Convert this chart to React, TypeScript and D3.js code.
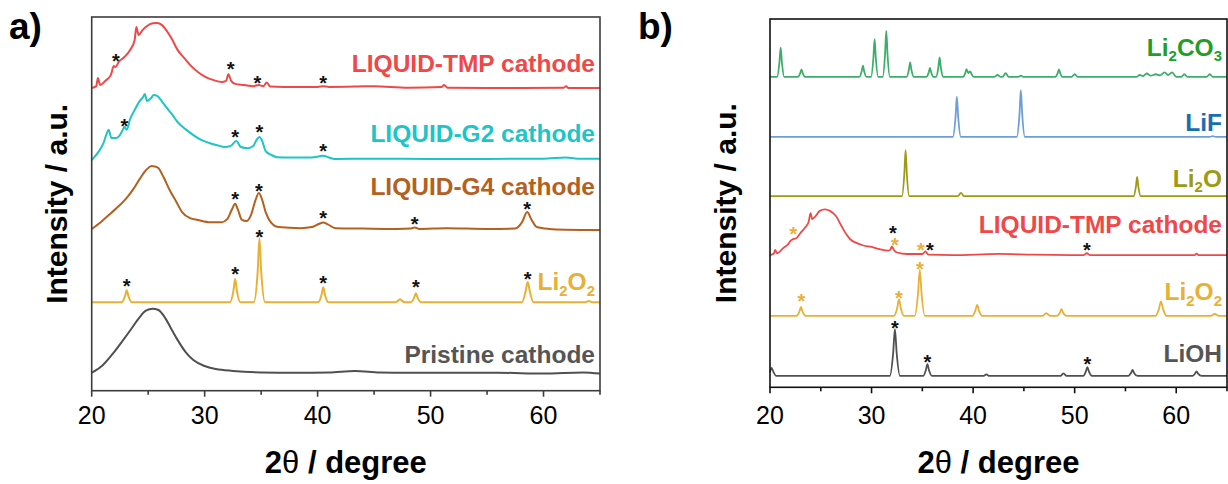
import React from 'react';
import * as d3 from 'd3';

type P = [number, number];

// ---------- axis ticks ----------
const X_DOMAIN: P = [20, 65];
const X_MAJOR = [20, 30, 40, 50, 60];
const X_MINOR = [25, 35, 45, 55, 65];

// ---------- panel a: patterns (2θ, intensity above own baseline, a.u.) ----------
const A_TMP: P[] = [
  [20.0, 0], [20.4, 0.5], [20.55, 2.7], [20.75, 0.8], [21.2, 1.9], [21.7, 3.5], [21.95, 5.9], [22.1, 5.6],
  [22.4, 7.0], [22.9, 8.3], [23.4, 10.2], [23.8, 12.8], [23.95, 16.3], [24.15, 14.2], [24.5, 15.5], [24.9, 16.6],
  [25.4, 17.3], [25.8, 17.4], [26.2, 16.9], [26.6, 15.5], [27.1, 13.1], [27.6, 10.2], [28.2, 8.0], [28.7, 6.2],
  [29.4, 4.3], [30.1, 2.9], [30.8, 2.1], [31.5, 1.6], [31.9, 1.9], [32.1, 3.7], [32.35, 1.9], [32.7, 1.1],
  [33.5, 0.8], [34.3, 0.5], [34.8, 0.8], [35.2, 0.5], [35.5, 1.5], [35.8, 0.4], [37, 0.3], [40, 0.3],
  [40.5, 0.5], [41, 0.3], [43.5, 0.4], [45, 0.5], [48, 0.1], [51, 0.3], [51.2, 0.8], [51.5, 0.1],
  [55, 0], [61.8, 0.1], [62.0, 0.5], [62.2, 0], [65, 0],
];
const A_G2: P[] = [
  [20.0, -0.3], [20.6, 1.9], [21.05, 4.3], [21.35, 7.0], [21.5, 7.8], [21.75, 5.6], [22.1, 5.6], [22.45, 6.2],
  [22.75, 7.8], [22.9, 8.6], [23.1, 7.8], [23.4, 10.7], [23.8, 13.1], [24.2, 15.3], [24.55, 16.6], [24.7, 17.4],
  [24.9, 15.5], [25.2, 16.1], [25.5, 17.1], [25.8, 16.9], [26.2, 15.5], [26.6, 13.9], [27.1, 12.0], [27.6, 9.9],
  [28.3, 8.0], [29.0, 6.4], [29.7, 5.1], [30.4, 4.3], [31.1, 3.7], [31.8, 3.2], [32.3, 3.5], [32.8, 4.8],
  [33.2, 3.2], [33.8, 2.9], [34.3, 3.5], [34.6, 5.1], [34.85, 5.9], [35.1, 4.8], [35.4, 2.1], [35.9, 1.1],
  [36.4, 0.5], [37.5, 0.4], [39.5, 0.4], [40.1, 0.7], [40.5, 0.9], [41.0, 0.4], [41.5, 0], [45, 0.1],
  [50, 0], [55, 0], [60, 0.1], [62, 0.4], [63, 0.1], [65, 0.1],
];
const A_G4: P[] = [
  [20.0, 0.3], [20.8, 2.1], [21.7, 4.5], [22.4, 6.4], [23.1, 8.6], [23.7, 11.0], [24.3, 13.9], [24.9, 16.3],
  [25.3, 17.1], [25.6, 17.0], [25.9, 16.6], [26.4, 13.9], [26.9, 10.7], [27.5, 7.5], [28.0, 4.8], [28.7, 3.2],
  [29.4, 2.7], [30.5, 2.1], [31.5, 2.1], [32.0, 2.9], [32.4, 5.4], [32.7, 7.0], [32.95, 5.4], [33.3, 2.7],
  [33.7, 2.4], [34.1, 4.0], [34.5, 8.0], [34.8, 9.9], [35.1, 8.0], [35.4, 4.8], [35.9, 1.9], [36.5, 0.8],
  [38.5, 0.5], [39.5, 0.8], [40.1, 1.6], [40.5, 2.0], [40.9, 1.5], [41.6, 0.5], [44, 0.4], [47, 0.3],
  [48.3, 0.4], [48.6, 0.7], [49.0, 0.3], [51.4, 0.5], [55, 0.3], [57.5, 0.4], [58.1, 2.1], [58.55, 4.8],
  [58.95, 2.7], [59.4, 0.8], [60.5, 0.3], [62, 0.1], [65, 0],
];
const A_LI2O2: P[] = [
  [20, 0], [22.65, 0], [22.95, 1.6], [23.1, 3.2], [23.25, 1.6], [23.55, 0],
  [32.25, 0], [32.55, 3.1], [32.7, 6.2], [32.85, 3.1], [33.15, 0],
  [34.35, 0], [34.7, 8.5], [34.85, 17.1], [35.0, 8.5], [35.35, 0],
  [40.05, 0], [40.35, 2.0], [40.5, 4.0], [40.65, 2.0], [40.95, 0],
  [46.9, 0], [47.15, 0.4], [47.3, 0.8], [47.45, 0.4], [47.7, 0],
  [48.25, 0], [48.55, 1.2], [48.7, 2.4], [48.85, 1.2], [49.15, 0],
  [58.1, 0], [58.4, 2.7], [58.6, 5.4], [58.8, 2.7], [59.1, 0],
  [63.7, 0], [64, 0.3], [64.3, 0], [65, 0],
];
const A_PRISTINE: P[] = [
  [20.0, 0.3], [21.0, 2.4], [22.0, 5.9], [22.8, 9.1], [23.5, 12.0], [24.2, 15.0], [24.8, 16.9], [25.4, 17.4],
  [25.9, 17.1], [26.5, 15.0], [27.0, 12.3], [27.6, 9.1], [28.3, 5.9], [29.0, 3.7], [30.0, 2.1], [31.0, 1.3],
  [32.5, 0.8], [35, 0.4], [38, 0.3], [41, 0.4], [43.3, 0.8], [45.5, 0.4], [48, 0.3], [52, 0.3],
  [56, 0.3], [60, 0.1], [63.5, 0.4], [65, 0.1],
];
const A_NAMES = ['LIQUID-TMP cathode', 'LIQUID-G2 cathode', 'LIQUID-G4 cathode', 'Li2O2', 'Pristine cathode'];
const A_OFFSETS = [81.0, 62.0, 43.0, 23.7, 4.5];
const A_STARS: P[] = [
  [22.15, 89.3], [32.3, 87.2], [34.67, 83.4], [40.5, 83.4],
  [22.9, 72.0], [32.7, 69.1], [34.85, 70.5], [40.5, 65.2],
  [32.7, 52.4], [34.8, 54.5], [40.5, 47.5], [48.6, 45.9], [58.55, 49.7],
  [23.1, 29.1], [32.7, 32.3], [34.85, 42.2], [40.5, 29.9], [48.7, 28.8], [58.6, 31.2],
];

// ---------- panel b ----------
const B_LI2CO3: P[] = [
  [20, 0], [20.7, 0], [20.93, 4.0], [21.05, 7.9], [21.17, 4.0], [21.4, 0],
  [22.75, 0], [22.98, 1.0], [23.1, 2.0], [23.22, 1.0], [23.45, 0],
  [28.8, 0], [29.03, 1.5], [29.15, 3.0], [29.27, 1.5], [29.5, 0],
  [29.95, 0], [30.18, 5.1], [30.3, 10.2], [30.42, 5.1], [30.65, 0],
  [31.1, 0], [31.33, 6.2], [31.45, 12.5], [31.57, 6.2], [31.8, 0],
  [33.45, 0], [33.68, 2.0], [33.8, 3.9], [33.92, 2.0], [34.15, 0],
  [35.4, 0], [35.63, 1.2], [35.75, 2.4], [35.87, 1.2], [36.1, 0],
  [36.35, 0], [36.58, 2.6], [36.7, 5.3], [36.82, 2.6], [37.05, 0],
  [39.0, 0], [39.23, 1.0], [39.35, 2.1], [39.52, 1.0], [39.7, 1.5], [39.85, 0.7], [40.05, 0],
  [42.1, 0], [42.4, 0.5], [42.7, 0], [42.9, 0], [43.2, 1.0], [43.5, 0],
  [44.45, 0], [44.7, 0.3], [44.95, 0],
  [48.1, 0], [48.33, 1.0], [48.45, 2.0], [48.57, 1.0], [48.8, 0],
  [49.7, 0], [50.0, 0.7], [50.3, 0],
  [56.1, 0], [56.4, 0.5], [56.7, 0.2], [57.1, 0.9], [57.5, 0.3], [58.0, 0.7], [58.4, 0.4], [58.85, 1.2],
  [59.2, 0.5], [59.6, 1.2], [60.0, 0], [60.5, 0], [60.8, 0.7], [61.1, 0],
  [63.0, 0], [63.3, 0.7], [63.6, 0], [65, 0],
];
const B_LIF: P[] = [
  [20, 0], [38.0, 0], [38.27, 5.4], [38.4, 10.9], [38.53, 5.4], [38.8, 0],
  [44.3, 0], [44.57, 6.3], [44.7, 12.7], [44.83, 6.3], [45.1, 0],
  [63.3, 0], [63.6, 0.2], [63.9, 0], [65, 0],
];
const B_LI2O: P[] = [
  [20, 0], [33.0, 0], [33.23, 6.2], [33.35, 12.5], [33.47, 6.2], [33.7, 0],
  [38.5, 0], [38.8, 0.9], [39.1, 0],
  [55.8, 0], [56.03, 2.6], [56.15, 5.2], [56.27, 2.6], [56.5, 0], [65, 0],
];
const B_TMP: P[] = [
  [20.0, 0], [20.4, 0.5], [20.5, 1.4], [20.7, 0.5], [21.3, 1.9], [21.8, 3.0], [22.0, 3.8], [22.2, 4.2],
  [22.6, 4.6], [23.0, 6.0], [23.4, 7.3], [23.8, 9.0], [24.0, 11.4], [24.15, 9.8], [24.4, 10.3], [24.9, 12.0],
  [25.4, 12.4], [25.9, 12.0], [26.5, 10.6], [27.0, 8.1], [27.5, 5.7], [27.9, 4.3], [28.5, 3.3], [29.2, 2.6],
  [30.0, 2.2], [30.8, 1.6], [31.6, 1.2], [31.85, 1.5], [32.0, 2.3], [32.2, 1.4], [32.5, 0.7], [33.5, 0.3],
  [35.0, 0.3], [35.3, 1.0], [35.6, 0.1], [38, 0], [42.5, 0.3], [46, 0.1], [50.9, 0], [51.2, 0.5],
  [51.5, 0], [61.8, 0], [62.0, 0.4], [62.2, 0], [65, 0],
];
const B_LI2O2: P[] = [
  [20, 0], [22.6, 0], [22.9, 1.2], [23.05, 2.4], [23.2, 1.2], [23.5, 0],
  [32.2, 0], [32.53, 2.2], [32.7, 4.5], [32.87, 2.2], [33.2, 0],
  [34.25, 0], [34.58, 6.2], [34.75, 12.5], [34.92, 6.2], [35.25, 0],
  [39.9, 0], [40.23, 1.5], [40.4, 3.0], [40.57, 1.5], [40.9, 0],
  [46.8, 0], [47.2, 0.7], [47.6, 0],
  [48.25, 0], [48.55, 0.9], [48.7, 1.8], [48.85, 0.9], [49.2, 0],
  [57.95, 0], [58.3, 1.9], [58.5, 3.9], [58.7, 1.9], [59.05, 0],
  [63.4, 0], [63.8, 0.5], [64.2, 0], [65, 0],
];
const B_LIOH: P[] = [
  [20, 1.0], [20.15, 2.2], [20.35, 1.0], [20.6, 0],
  [31.8, 0], [32.13, 6.3], [32.3, 12.7], [32.47, 6.3], [32.8, 0],
  [35.1, 0], [35.35, 1.6], [35.5, 3.2], [35.65, 1.6], [35.95, 0],
  [41.0, 0], [41.3, 0.4], [41.6, 0],
  [48.6, 0], [48.9, 0.7], [49.2, 0],
  [50.85, 0], [51.1, 1.2], [51.25, 2.4], [51.4, 1.2], [51.7, 0],
  [55.3, 0], [55.55, 0.8], [55.7, 1.6], [55.85, 0.8], [56.2, 0],
  [61.6, 0], [61.85, 0.6], [62.0, 1.2], [62.15, 0.6], [62.5, 0], [65, 0],
];
const B_NAMES = ['Li2CO3', 'LiF', 'Li2O', 'LIQUID-TMP cathode', 'Li2O2', 'LiOH'];
const B_OFFSETS = [84.3, 68.0, 51.9, 35.9, 19.4, 3.1];
const B_STARS_BLACK: P[] = [[32.1, 43.2], [35.75, 38.4], [51.2, 38.4], [32.3, 17.2], [35.5, 8.0], [51.25, 7.4]];
const B_STARS_GOLD: P[] = [[22.3, 42.7], [32.3, 39.9], [34.85, 38.6], [23.1, 24.6], [32.7, 25.5], [34.75, 33.2]];

// ---------- styles / layout ----------
const FONT = '"Liberation Sans", Arial, Helvetica, sans-serif';
const C = {
  red: '#f04848', cyan: '#1cc5c8', brown: '#b4601e', gold: '#e8b034', gray: '#505050',
  greenLine: '#3cae6a', greenText: '#1f9e2a', blueLine: '#6c9fd6', blueText: '#1a6db5', olive: '#9c9c14',
};
const LABEL_SIZE = 24.5;
const SUB_SIZE = 15;

type Series = { data: P[]; offset: number; color: string; label: string; labelColor: string; labelY: number };

const A_STYLE = [
  { color: C.red, labelColor: C.red, labelY: 85.3 },
  { color: C.cyan, labelColor: C.cyan, labelY: 66.6 },
  { color: C.brown, labelColor: C.brown, labelY: 52.4 },
  { color: C.gold, labelColor: C.gold, labelY: 26.9 },
  { color: C.gray, labelColor: '#555555', labelY: 7.4 },
];
const B_STYLE = [
  { color: C.greenLine, labelColor: C.greenText, labelY: 90.0 },
  { color: C.blueLine, labelColor: C.blueText, labelY: 69.6 },
  { color: C.olive, labelColor: C.olive, labelY: 54.5 },
  { color: C.red, labelColor: C.red, labelY: 41.9 },
  { color: C.gold, labelColor: C.gold, labelY: 23.7 },
  { color: C.gray, labelColor: '#555555', labelY: 6.9 },
];

function Label({ x, y, text, color }: { x: number; y: number; text: string; color: string }) {
  const isFormula = !text.includes(' ');
  const parts: { t: string; sub: boolean }[] = [];
  if (isFormula) {
    for (const ch of text) {
      const sub = /[0-9]/.test(ch);
      const last = parts[parts.length - 1];
      if (last && last.sub === sub) last.t += ch;
      else parts.push({ t: ch, sub });
    }
  } else parts.push({ t: text, sub: false });
  let prevSub = false;
  return (
    <text x={x} y={y} textAnchor="end" fontSize={LABEL_SIZE} fontWeight="bold" fill={color} fontFamily={FONT}>
      {parts.map((p, i) => {
        const dy = p.sub ? (prevSub ? 0 : 5.5) : prevSub ? -5.5 : 0;
        prevSub = p.sub;
        return (
          <tspan key={i} dy={dy} fontSize={p.sub ? SUB_SIZE : LABEL_SIZE}>
            {p.t}
          </tspan>
        );
      })}
    </text>
  );
}

function Stars({ pts, x, y, color }: { pts: P[]; x: any; y: any; color: string }) {
  return (
    <g>
      {pts.map((p, i) => (
        <text key={i} x={x(p[0])} y={y(p[1])} dy="0.57em" textAnchor="middle" fontSize={20} fontWeight="bold" fill={color} fontFamily={FONT}>
          *
        </text>
      ))}
    </g>
  );
}

function Panel(props: {
  left: number; right: number; top: number; bottom: number;
  series: Series[]; lineWidth: number; frameColor: string;
  panelLabel: string; panelLabelX: number; yTitleX: number;
  starsBlack: P[]; starsGold: P[];
}) {
  const { left, right, top, bottom, series, lineWidth, frameColor } = props;
  const x = d3.scaleLinear().domain(X_DOMAIN).range([left, right]);
  const y = d3.scaleLinear().domain([0, 100]).range([bottom, top]);
  const line = (off: number) =>
    d3.line<P>().x((d) => x(d[0])).y((d) => y(d[1] + off)).curve(d3.curveMonotoneX);
  return (
    <g>
      {series.map((s, i) => (
        <path key={i} d={line(s.offset)(s.data) || ''} fill="none" stroke={s.color} strokeWidth={lineWidth} strokeLinejoin="round" />
      ))}
      {series.map((s, i) => (
        <Label key={'l' + i} x={right - 5} y={y(s.labelY)} text={s.label} color={s.labelColor} />
      ))}
      <Stars pts={props.starsBlack} x={x} y={y} color="#111111" />
      <Stars pts={props.starsGold} x={x} y={y} color={C.gold} />
      <rect x={left} y={top} width={right - left} height={bottom - top} fill="none" stroke={frameColor} strokeWidth={1.6} />
      {X_MAJOR.map((t) => (
        <g key={'M' + t}>
          <line x1={x(t)} x2={x(t)} y1={bottom} y2={bottom + 6} stroke={frameColor} strokeWidth={1.6} />
          <text x={x(t)} y={423.5} textAnchor="middle" fontSize={25} fontFamily={FONT} fill="#000">
            {t}
          </text>
        </g>
      ))}
      {X_MINOR.map((t) => (
        <line key={'m' + t} x1={x(t)} x2={x(t)} y1={bottom} y2={bottom + 4} stroke={frameColor} strokeWidth={1.6} />
      ))}
      <text x={(left + right) / 2} y={473} textAnchor="middle" fontSize={31} fontWeight="bold" fontFamily={FONT} fill="#000">
        2<tspan fontWeight="normal">θ</tspan> / degree
      </text>
      <text
        transform={`translate(${props.yTitleX},${(top + bottom) / 2}) rotate(-90)`}
        textAnchor="middle" fontSize={30} fontWeight="bold" fontFamily={FONT} fill="#000"
      >
        Intensity / a.u.
      </text>
      <text x={props.panelLabelX} y={39} fontSize={37} fontWeight="bold" fontFamily={FONT} fill="#000">
        {props.panelLabel}
      </text>
    </g>
  );
}

export default function App() {
  const aData = [A_TMP, A_G2, A_G4, A_LI2O2, A_PRISTINE];
  const bData = [B_LI2CO3, B_LIF, B_LI2O, B_TMP, B_LI2O2, B_LIOH];
  const aSeries: Series[] = aData.map((d, i) => ({ data: d, offset: A_OFFSETS[i], label: A_NAMES[i], ...A_STYLE[i] }));
  const bSeries: Series[] = bData.map((d, i) => ({ data: d, offset: B_OFFSETS[i], label: B_NAMES[i], ...B_STYLE[i] }));
  return (
    <div style={{ position: 'absolute', left: 0, top: 0 }}>
      <svg width={1228} height={484} viewBox="0 0 1228 484" style={{ display: 'block', background: '#fff' }}>
        <Panel left={91.7} right={600} top={17} bottom={390.7} series={aSeries} lineWidth={2}
          frameColor="#3c3c3c" panelLabel="a)" panelLabelX={9} yTitleX={67}
          starsBlack={A_STARS} starsGold={[]} />
        <Panel left={770} right={1227} top={19} bottom={387.3} series={bSeries} lineWidth={1.8}
          frameColor="#111111" panelLabel="b)" panelLabelX={638} yTitleX={736}
          starsBlack={B_STARS_BLACK} starsGold={B_STARS_GOLD} />
      </svg>
    </div>
  );
}
